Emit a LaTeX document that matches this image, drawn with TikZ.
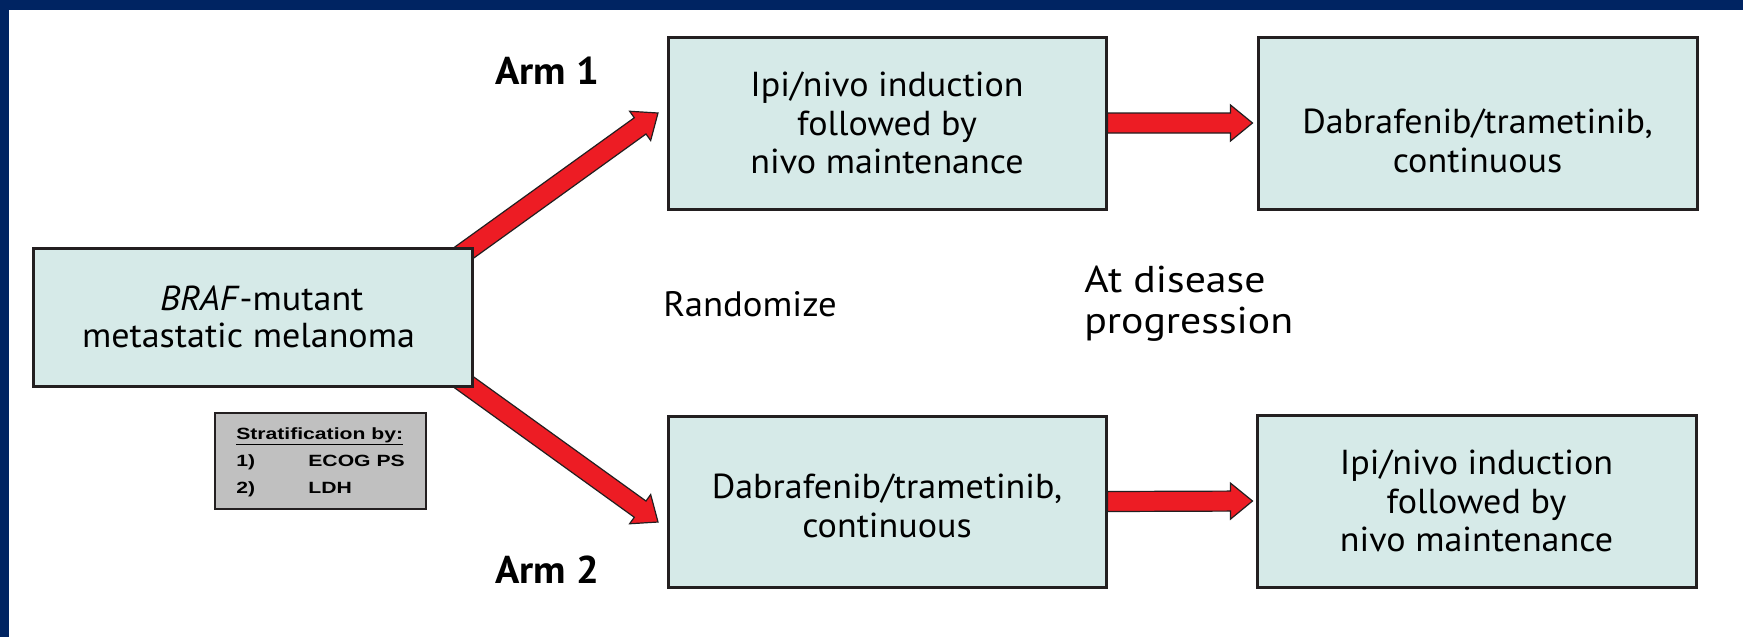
\documentclass[tikz,border=0pt]{standalone}
\usepackage{fontspec}
\setmainfont{PT Sans}[FakeStretch=1.04]
\newfontfamily\progfont{PT Sans}[FakeStretch=1.12]
\newfontfamily\stratfont{Liberation Sans}[FakeStretch=1.3]
\usetikzlibrary{calc}
\definecolor{bandblue}{RGB}{0,36,98}
\definecolor{boxfill}{RGB}{214,234,232}
\definecolor{arrowred}{RGB}{237,28,36}
\definecolor{edgecol}{RGB}{35,31,32}
\definecolor{stratgray}{RGB}{192,192,192}
\newcommand{\fatarrow}[3]{%
  \coordinate (#3hb) at ($(#2)!16.5pt!(#1)$);
  \draw[fatarr] ($(#1)!7.5pt!90:(#2)$) -- ($(#3hb)!7.5pt!90:(#2)$) -- ($(#3hb)!13.5pt!90:(#2)$) -- (#2)
    -- ($(#3hb)!13.5pt!-90:(#2)$) -- ($(#3hb)!7.5pt!-90:(#2)$) -- ($(#1)!7.5pt!-90:(#2)$) -- cycle;}
\begin{document}
\begin{tikzpicture}[x=0.75pt,y=-0.75pt,
  box/.style={draw=edgecol, fill=boxfill, line width=2.25pt, rectangle, inner sep=0pt,
    align=center, font=\fontsize{26}{29}\selectfont, text=black},
  boxtext/.style={align=center, font=\fontsize{26}{29}\selectfont, text=black, inner sep=0pt},
  armlabel/.style={font=\fontsize{29}{34}\selectfont\bfseries, text=black},
  plainlabel/.style={font=\fontsize{26.5}{31}\selectfont, text=black},
  fatarr/.style={draw=edgecol, fill=arrowred, line width=0.9pt, line join=miter},
  stratbox/.style={draw=edgecol, fill=stratgray, line width=1.5pt, rectangle, inner sep=0pt,
    font=\stratfont\bfseries\fontsize{12.2}{20.6}\selectfont},
]
\useasboundingbox (0,0) rectangle (1743,637);
\fill[white] (0,0) rectangle (1743,637);
\fill[bandblue] (0,0) rectangle (1743,10);
\fill[bandblue] (0,0) rectangle (9,637);

% arrows from the left box drawn first (tails hidden under the box)
\coordinate (t1) at (440,270);
\coordinate (h1) at (658,113);
\coordinate (t2) at (440,365);
\coordinate (h2) at (658,522);
\fatarrow{t1}{h1}{aa}
\fatarrow{t2}{h2}{ab}

\node[box, font=\fontsize{26}{27.5}\selectfont, minimum width=329.25pt, minimum height=103.5pt] (left) at (252.5,317)
  {\hspace*{14pt}\textit{BRAF}-mutant\\metastatic melanoma\hspace*{6pt}};
\node[box, minimum width=328.5pt, minimum height=129pt] (arm1) at (887,123)
  {Ipi/nivo induction\\followed by\\nivo maintenance};
\node[box, minimum width=329.25pt, minimum height=129pt] (tr) at (1477.5,123) {};
\node[boxtext] (trtext) at (1477.5,141) {Dabrafenib/trametinib,\\continuous};
\node[box, minimum width=328.5pt, minimum height=128.25pt] (bm) at (887,501.5) {};
\node[boxtext] (bmtext) at (887,506) {Dabrafenib/trametinib,\\continuous};
\node[box, minimum width=329.25pt, minimum height=129pt] (br) at (1476.5,501)
  {Ipi/nivo induction\\followed by\\nivo maintenance};

\node[stratbox, minimum width=158.25pt, minimum height=72pt] (strat) at (320.5,461)
  {\begin{tabular}{@{}l@{\hspace{40pt}}l@{}}
   \multicolumn{2}{@{}l@{}}{\underline{Stratification by:}}\\
   1) & ECOG PS\\
   2) & LDH
   \end{tabular}};

\coordinate (h3) at ($(tr.west)+(-4,0)$);
\coordinate (h4) at ($(br.west)+(-3,0)$);
\fatarrow{arm1.east}{h3}{ac}
\fatarrow{bm.east}{h4}{ad}

\node[armlabel] (arm1lab) at (547,71) {Arm 1};
\node[armlabel] (arm2lab) at (547,570) {Arm 2};
\node[plainlabel] (rand) at (750,304) {Randomize};
\node[plainlabel, font=\progfont\fontsize{28}{31}\selectfont, align=left, anchor=west, inner sep=0pt] (prog) at (1084,304) {At disease\\progression};
\end{tikzpicture}
\end{document}
